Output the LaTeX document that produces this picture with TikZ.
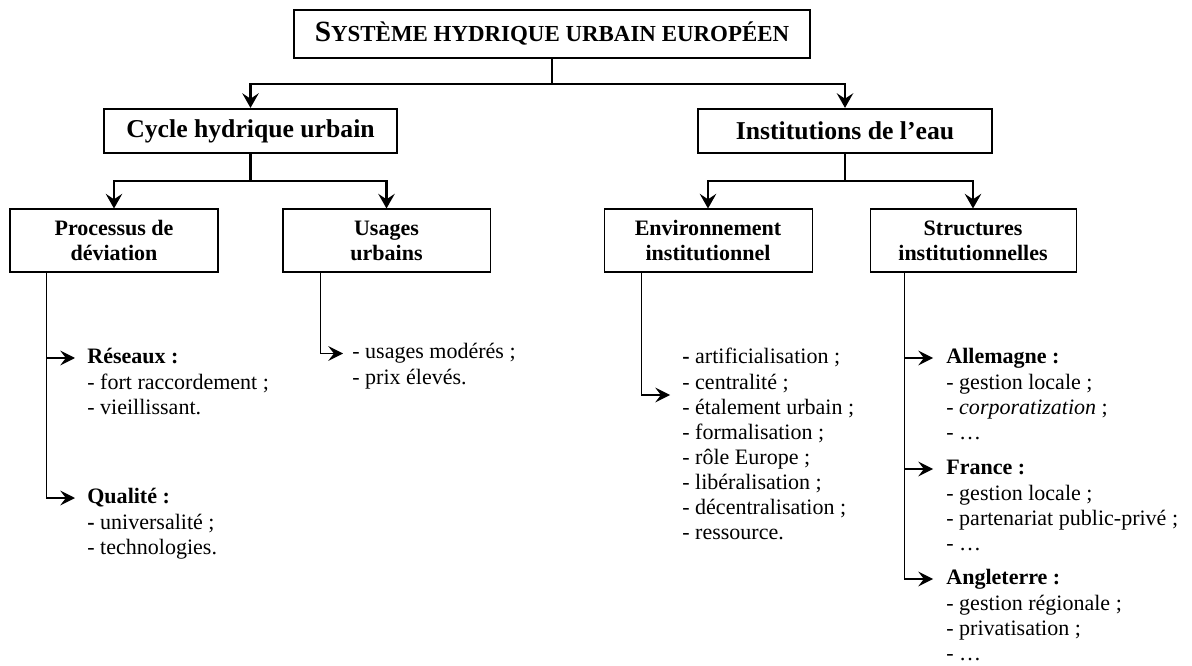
\documentclass[tikz,border=0pt]{standalone}
\usepackage{fontspec}
\setmainfont{Liberation Serif}
\usetikzlibrary{arrows.meta,calc,positioning}
\newlength\pxu
\setlength\pxu{0.545pt}
\tikzset{%
	titlebox/.style = {draw, line width=1.4pt, minimum width=516\pxu,
		minimum height=48\pxu, inner sep=0pt},
	topbox/.style   = {draw, line width=1.2pt, minimum height=44\pxu, inner sep=0pt,
		font=\fontsize{14}{16}\selectfont\bfseries},
	subbox/.style   = {draw, line width=0.55pt, minimum width=208\pxu,
		minimum height=63\pxu, inner sep=0pt, align=center,
		font=\fontsize{12}{13.7}\selectfont\bfseries},
	items/.style    = {anchor=north west, inner sep=0pt, align=left,
		font=\fontsize{12}{13.7}\selectfont}, % lists
	link/.style     = {line width=1.1pt},
	down/.style     = {link, -{Stealth[length=8pt,width=9pt,inset=3pt]}},
	twig/.style     = {line width=0.8pt, -{Stealth[length=8pt,width=8pt,inset=3pt]}}
}

\begin{document}
\begin{tikzpicture}[x=\pxu, y=-\pxu]
	\useasboundingbox (0,0) rectangle (1192,666);

	\node[titlebox] (sys)   at (552,34)    {\bfseries\fontsize{16}{18}\selectfont S\fontsize{12.5}{15}\selectfont YSTÈME HYDRIQUE URBAIN EUROPÉEN};
	\node[topbox, minimum width=293\pxu] (cycle) at (250.5,131) {Cycle hydrique urbain};
	\node[topbox, minimum width=294\pxu] (inst)  at (845,131)   {Institutions de l’eau};
	\node[subbox] (proc)    at (114,240.5)   {Processus de\\déviation};
	\node[subbox, minimum width=207\pxu] (usag) at (386.5,240.5) {Usages\\urbains};
	\node[subbox] (envi)    at (708,240.5)   {Environnement\\institutionnel};
	\node[subbox, minimum width=206\pxu] (stru) at (973,240.5) {Structures\\institutionnelles};

	\node[items] (reseaux) at (87,346)    {\strut\textbf{Réseaux :}\\- fort raccordement ;\\- vieillissant.};
	\node[items] (qualite) at (87,486)    {\strut\textbf{Qualité :}\\\textbf{-} universalité ;\\- technologies.};
	\node[items] (usl)     at (352,341)   {\strut- usages modérés ;\\- prix élevés.};
	\node[items] (envl)    at (682,346)   {\strut\textbf{-} artificialisation ;\\- centralité ;\\- étalement urbain ;\\- formalisation ;\\- rôle Europe ;\\- libéralisation ;\\- décentralisation ;\\- ressource.};
	\node[items] (alle)    at (946,346)   {\strut\textbf{Allemagne :}\\- gestion locale ;\\- \textit{corporatization} ;\\- …};
	\node[items] (fran)    at (946,457)   {\strut\textbf{France :}\\- gestion locale ;\\- partenariat public-privé ;\\- …};
	\node[items] (angl)    at (946,567)   {\strut\textbf{Angleterre :}\\- gestion régionale ;\\- privatisation ;\\- …};

	\coordinate (j0) at ($(sys.south)+(0,25)$);
	\coordinate (j1) at ($(cycle.south)+(0,27)$);
	\coordinate (j2) at ($(inst.south)+(0,27)$);

	\draw[link] (sys)   -- (j0);
	\draw[down] (j0)    -| (cycle);
	\draw[down] (j0)    -| (inst);
	\draw[link] (cycle) -- (j1);
	\draw[down] (j1)    -| (proc);
	\draw[down] (j1)    -| (usag);
	\draw[link] (inst)  -- (j2);
	\draw[down] (j2)    -| (envi);
	\draw[down] (j2)    -| (stru);

	\draw[twig] ($(proc.south west)+(37,0)$) |- ($(reseaux.north west)+(-12,12)$);
	\draw[twig] ($(proc.south west)+(37,0)$) |- ($(qualite.north west)+(-12,12)$);
	\draw[twig] ($(usag.south west)+(38,0)$) |- ($(usl.north west)+(-9,12.5)$);
	\draw[twig] ($(envi.south west)+(38,0)$) |- ($(envl.north west)+(-12,49)$);
	\draw[twig] ($(stru.south west)+(35,0)$) |- ($(alle.north west)+(-13,12)$);
	\draw[twig] ($(stru.south west)+(35,0)$) |- ($(fran.north west)+(-13,12)$);
	\draw[twig] ($(stru.south west)+(35,0)$) |- ($(angl.north west)+(-13,12)$);
\end{tikzpicture}
\end{document}
